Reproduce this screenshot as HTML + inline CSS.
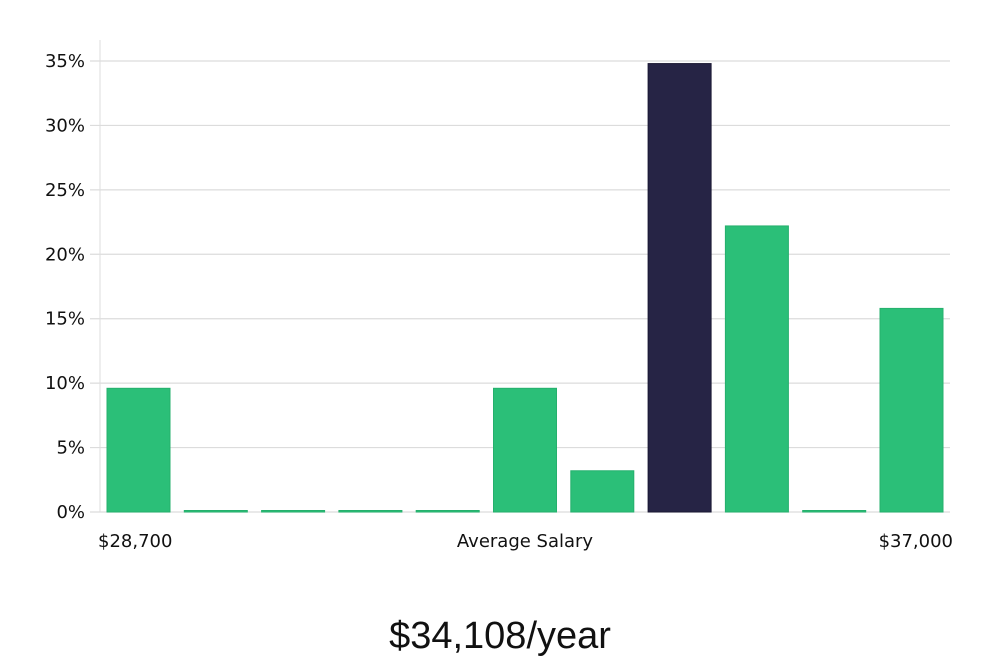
<!DOCTYPE html>
<html><head><meta charset="utf-8"><style>
body{margin:0;background:#fff;width:1000px;height:660px;overflow:hidden;font-family:"DejaVu Sans","Liberation Sans",sans-serif}
</style></head><body>
<svg id="chart" width="1000" height="660" xmlns="http://www.w3.org/2000/svg">
<g id="grid"></g>
<g id="yticks"></g>
<g id="bars"></g>
<text x="98" y="547" font-size="18" fill="#111">$28,700</text>
<text x="525" y="547" font-size="18" fill="#111" text-anchor="middle">Average Salary</text>
<text x="953" y="547" font-size="18" fill="#111" text-anchor="end">$37,000</text>
<text x="500" y="648" font-size="38" fill="#111" text-anchor="middle" font-family="'Liberation Sans',sans-serif" font-weight="300">$34,108/year</text>
</svg>
<script>
const values = [9.6, 0, 0, 0, 0, 9.6, 3.2, 34.8, 22.2, 0, 15.8];
const highlight = [false, false, false, false, false, false, false, true, false, false, false];
const yTicks = [0, 5, 10, 15, 20, 25, 30, 35];
const NS = "http://www.w3.org/2000/svg";
const x0 = 100, x1 = 950, yBase = 512, yTop = 61;
const y = v => yBase - (v / 35) * (yBase - yTop);
const pitch = 77.3, bw = 63, bStart = 107;
const xb = i => bStart + i * pitch;
const grid = document.getElementById('grid'), yt = document.getElementById('yticks'), bars = document.getElementById('bars');
const axis = document.createElementNS(NS, 'line');


axis.setAttribute('x1', x0); axis.setAttribute('x2', x0); axis.setAttribute('y1', 40); axis.setAttribute('y2', yBase);
axis.setAttribute('stroke', '#ddd');
yt.appendChild(axis);
yTicks.forEach(t => {
  const l = document.createElementNS(NS, 'line');
  
  
  l.setAttribute('x1', 90); l.setAttribute('x2', x1);
  l.setAttribute('y1', y(t)); l.setAttribute('y2', y(t));
  l.setAttribute('stroke', '#dcdcdc'); l.setAttribute('stroke-width', '1.2');
  grid.appendChild(l);
  const tx = document.createElementNS(NS, 'text');
  
  
  tx.setAttribute('x', 85); tx.setAttribute('y', y(t) + 6);
  tx.setAttribute('text-anchor', 'end'); tx.setAttribute('font-size', '18'); tx.setAttribute('fill', '#111');
  tx.textContent = t + '%';
  yt.appendChild(tx);
});
values.forEach((v, i) => {
  const r = document.createElementNS(NS, 'rect');
  
  
  const h = Math.max(yBase - y(v), 1.5);
  r.setAttribute('x', xb(i)); r.setAttribute('width', bw);
  r.setAttribute('y', yBase - h); r.setAttribute('height', h);
  r.setAttribute('fill', highlight[i] ? '#262445' : '#2bbf78');
  r.setAttribute('stroke', highlight[i] ? '#1a1833' : '#25b06d');
  r.setAttribute('stroke-width', '1');
  bars.appendChild(r);
});
</script>
</body></html>
